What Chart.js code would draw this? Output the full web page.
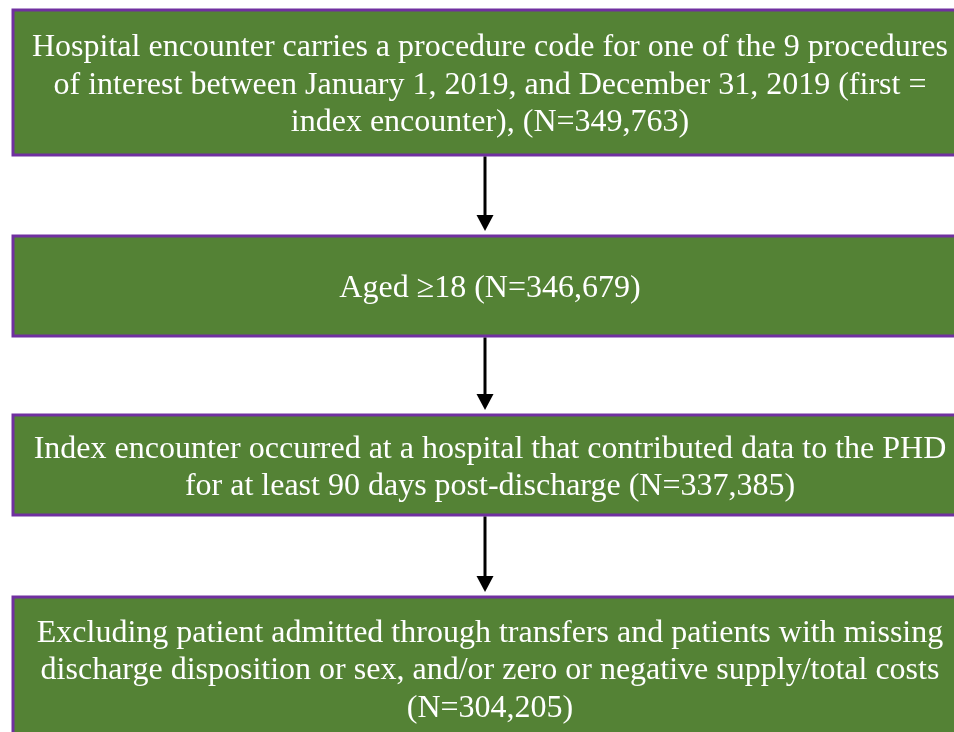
<!DOCTYPE html>
<html>
<head>
<meta charset="utf-8">
<script src="https://cdn.jsdelivr.net/npm/chart.js@4"></script>
<style>
  body { margin: 0; background: #ffffff; }
  canvas { display: block; }
</style>
</head>
<body>
<canvas id="flowChart" width="954" height="732"></canvas>
<script>
'use strict';

// step counts (N) for each box of the flow
const stepCounts = [349763, 346679, 337385, 304205];

// text lines of each step, the N is added on the last line
const stepLines = [
  ['Hospital encounter carries a procedure code for one of the 9 procedures',
   'of interest between January 1, 2019, and December 31, 2019 (first =',
   'index encounter), '],
  ['Aged \u226518 '],
  ['Index encounter occurred at a hospital that contributed data to the PHD',
   'for at least 90 days post-discharge '],
  ['Excluding patient admitted through transfers and patients with missing',
   'discharge disposition or sex, and/or zero or negative supply/total costs',
   '']
];

// layout of the boxes, in the chart's own units (x 0..954, y 0..732)
const boxTop = [10, 236, 415, 597];
const boxBottom = [155, 336, 515, 760];
const boxLeft = 13;
const boxRight = 967;
const arrowX = 485;

const ctx = document.getElementById('flowChart').getContext('2d');

function fmtN(n) {
  return '(N=' + n.toLocaleString('en-US') + ')';
}

// draws the boxes, texts and arrows from the scales
const flowPlugin = {
  id: 'flowBoxes',
  afterDraw(chart) {
    const x = chart.scales.x;
    const y = chart.scales.y;
    const c = chart.ctx;
    c.save();

    for (let i = 0; i < stepCounts.length; i++) {
      let l = x.getPixelForValue(boxLeft);
      let r = x.getPixelForValue(boxRight);
      let t = y.getPixelForValue(boxTop[i]);
      let b = y.getPixelForValue(boxBottom[i]);
      c.fillStyle = '#548235';
      c.fillRect(l, t, r - l, b - t);
      c.strokeStyle = '#7030A0';
      c.lineWidth = 3;
      c.strokeRect(l, t, r - l, b - t);

      // text
      let lines = stepLines[i].slice();
      let last = lines.length - 1;
      lines[last] = lines[last] + fmtN(stepCounts[i]);
      let lineH = 37.5;
      let midY = i === 3 ? 671 : (t + b) / 2 + 3;
      let startY = midY - (lines.length - 1) * lineH / 2;
      c.fillStyle = '#ffffff';
      c.font = '32px "Liberation Serif", "Times New Roman", serif';
      c.textAlign = 'center';
      c.textBaseline = 'middle';
      for (let k = 0; k < lines.length; k++) {
        c.fillText(lines[k], x.getPixelForValue(490), startY + k * lineH);
      }

      // arrow to next box
      if (i < stepCounts.length - 1) {
        let ax = x.getPixelForValue(arrowX);
        let y0 = y.getPixelForValue(boxBottom[i]) + 1.5;
        let y1 = y.getPixelForValue(boxTop[i + 1]) - 5;
        c.strokeStyle = '#000000';
        c.lineWidth = 3;
        c.beginPath();
        c.moveTo(ax, y0);
        c.lineTo(ax, y1 - 12);
        c.stroke();
        c.fillStyle = '#000000';
        c.beginPath();
        c.moveTo(ax - 8.5, y1 - 16);
        c.lineTo(ax + 8.5, y1 - 16);
        c.lineTo(ax, y1);
        c.closePath();
        c.fill();
      }
    }
    c.restore();
  }
};

const chartObj = {
  type: 'scatter',
  data: {
    datasets: [{
      data: [],
      pointRadius: 0
    }]
  },
  options: {
    responsive: false,
    animation: false,
    events: [],
    layout: { padding: 0 },
    plugins: {
      legend: { display: false },
      tooltip: { enabled: false }
    },
    scales: {
      x: { type: 'linear', min: 0, max: 954, display: false },
      y: { type: 'linear', min: 0, max: 732, reverse: true, display: false }
    }
  },
  plugins: [flowPlugin]
};

const myChart = new Chart(ctx, chartObj); // eslint-disable-line
</script>
</body>
</html>
